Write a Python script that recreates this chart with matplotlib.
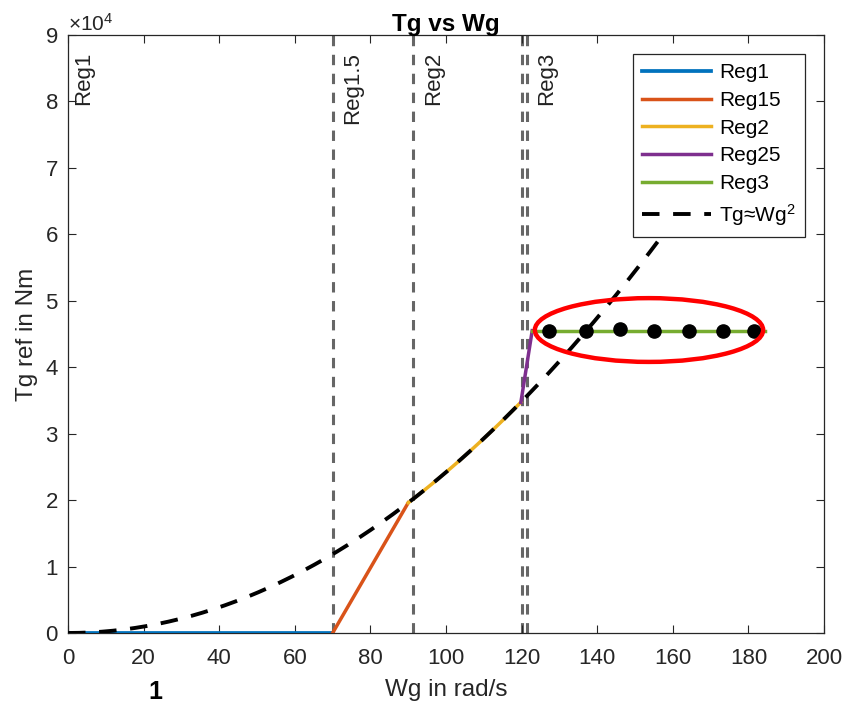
import numpy as np
import matplotlib
matplotlib.use("Agg")
import matplotlib.pyplot as plt
from matplotlib.patches import Ellipse
from matplotlib.ticker import ScalarFormatter

plt.rcParams["font.family"] = ["Liberation Sans", "DejaVu Sans"]
plt.rcParams["mathtext.default"] = "regular"

# ── data ──
k_gain = 2.42                      # Tg = k * Wg^2
wg_curve = np.linspace(0, 157, 160)
tg_curve = k_gain * wg_curve ** 2

reg1_w = [0, 70]
reg1_t = [0, 0]
reg15_w = [70, 90]
reg15_t = [0, 19600]
reg2_w = np.linspace(90, 119.8, 30)
reg2_t = k_gain * reg2_w ** 2
reg25_w = [119.8, 122.8]
reg25_t = [34700, 45500]
reg3_w = [122.8, 184.4]
reg3_t = [45500, 45500]
dot_w = [127.2, 137.0, 146.0, 155.1, 164.2, 173.4, 181.6]
dot_t = [45400, 45500, 45700, 45500, 45500, 45500, 45500]

vlines_w = [70, 91.2, 120.0, 121.5]
region_labels = ["Reg1", "Reg1.5", "Reg2", "Reg3"]
region_label_w = [4.0, 75.3, 96.6, 126.7]
region_label_t = 87500

ellipse_c = (153.7, 45600)
ellipse_w, ellipse_h = 60.4, 9600

fig = plt.figure(figsize=(8.44, 7.06), dpi=100)
ax = fig.add_axes([0.0806, 0.1034, 0.8957, 0.847])

for xv in vlines_w:
    ax.axvline(xv, color="#666666", lw=2.2, ls=(0, (3.4, 2.8)), zorder=1)

ax.plot(reg1_w, reg1_t, color="#0072BD", lw=2.7, label="Reg1", zorder=3)
ax.plot(reg15_w, reg15_t, color="#D95319", lw=2.5, label="Reg15", zorder=3)
ax.plot(reg2_w, reg2_t, color="#EDB120", lw=2.5, label="Reg2", zorder=3)
ax.plot(reg25_w, reg25_t, color="#7E2F8E", lw=2.5, label="Reg25", zorder=3)
ax.plot(reg3_w, reg3_t, color="#77AC30", lw=2.5, label="Reg3", zorder=3)
ax.plot(wg_curve, tg_curve, color="black", lw=2.8, ls=(0, (4.5, 3.5)),
        label="Tg\u2248Wg$^{2}$", zorder=4)
ax.scatter(dot_w, dot_t, s=90, color="black", zorder=5)

ax.add_patch(Ellipse(ellipse_c, ellipse_w, ellipse_h, fill=False,
                     edgecolor="red", lw=3.2, zorder=6))

for lbl, xv in zip(region_labels, region_label_w):
    ax.text(xv, region_label_t, lbl, rotation=90, ha="center", va="top",
            fontsize=16, color="#222222")

ax.set_xlim(0, 200)
ax.set_ylim(0, 90000)
ax.set_xticks(np.arange(0, 201, 20))
ax.set_yticks(np.arange(0, 90001, 10000))
fmt = ScalarFormatter(useMathText=True)
fmt.set_powerlimits((4, 4))
ax.yaxis.set_major_formatter(fmt)
ax.yaxis.get_offset_text().set_fontsize(15)
ax.yaxis.get_offset_text().set_color("#262626")

ax.tick_params(direction="in", length=6, width=0.8, top=True, right=True,
               labelsize=16, colors="#262626", pad=7)
ax.tick_params(axis="x", pad=11)
for sp in ax.spines.values():
    sp.set_color("#262626")
    sp.set_linewidth(0.9)

ax.set_title("Tg vs Wg", fontsize=17.5, fontweight="bold", pad=3)
ax.set_xlabel("Wg in rad/s", fontsize=17.5, color="#262626", labelpad=7)
ax.set_ylabel("Tg ref in Nm", fontsize=17.5, color="#262626", labelpad=5)

leg = ax.legend(loc="upper right", bbox_to_anchor=(0.989, 0.986), fontsize=15,
                handlelength=3.3, labelspacing=0.42, borderpad=0.45,
                handletextpad=0.4, fancybox=False, framealpha=1,
                edgecolor="#262626")
leg.get_frame().set_linewidth(0.9)

fig.text(155 / 844, 7 / 706, "1", fontsize=18, fontweight="bold",
         ha="center", va="baseline")

fig.savefig("out.png", dpi=100)
